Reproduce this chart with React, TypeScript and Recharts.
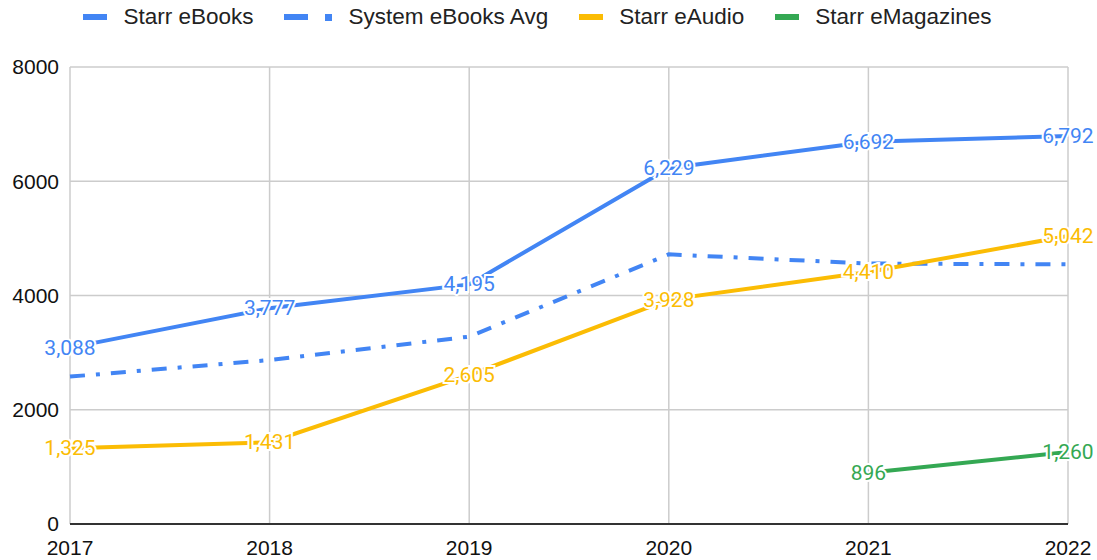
import React from "react";
import {
  LineChart,
  Line,
  XAxis,
  YAxis,
  CartesianGrid,
  LabelList,
} from "recharts";

const years = ["2017", "2018", "2019", "2020", "2021", "2022"];
const starrEbooks = [3088, 3777, 4195, 6229, 6692, 6792];
const systemEbooksAvg = [2580, 2870, 3280, 4720, 4560, 4545];
const starrEaudio = [1325, 1431, 2605, 3928, 4410, 5042];
const starrEmagazines = [null, null, null, null, 896, 1260];
const yTicks = [0, 2000, 4000, 6000, 8000];

const BLUE = "#4285F4";
const YELLOW = "#FBBC04";
const GREEN = "#34A853";
const AXIS_FONT = "Arial, 'Liberation Sans', sans-serif";
const LABEL_FONT = "Roboto, 'Noto Sans', sans-serif";

const data = years.map((year, i) => ({
  year,
  ebooks: starrEbooks[i],
  avg: systemEbooksAvg[i],
  audio: starrEaudio[i],
  mags: starrEmagazines[i],
}));

const legendItems = [
  { name: "Starr eBooks", color: BLUE, dashed: false },
  { name: "System eBooks Avg", color: BLUE, dashed: true },
  { name: "Starr eAudio", color: YELLOW, dashed: false },
  { name: "Starr eMagazines", color: GREEN, dashed: false },
];

function makeLabel(color: string) {
  return (props: any) => {
    const { x, y, value } = props;
    if (value == null) return null;
    return (
      <text
        x={x}
        y={y}
        textAnchor="middle"
        dominantBaseline="central"
        fill={color}
        stroke="#fff"
        strokeWidth={4}
        paintOrder="stroke"
        fontSize={21}
        fontFamily={LABEL_FONT}
      >
        {Number(value).toLocaleString("en-US")}
      </text>
    );
  };
}

function TopLegend() {
  return (
    <div
      style={{
        position: "absolute",
        left: 0,
        top: 0,
        width: 1097,
        height: 34,
        display: "flex",
        justifyContent: "center",
        alignItems: "center",
        gap: 31,
        fontFamily: AXIS_FONT,
        fontSize: 22.5,
        color: "#222",
        paddingRight: 22,
        boxSizing: "border-box",
      }}
    >
      {legendItems.map((item) => (
        <div key={item.name} style={{ display: "flex", alignItems: "center" }}>
          <div style={{ width: 24, height: 6, background: item.color }} />
          {item.dashed && (
            <div
              style={{ width: 7, height: 7, background: item.color, marginLeft: 17 }}
            />
          )}
          <span style={{ marginLeft: 16 }}>{item.name}</span>
        </div>
      ))}
    </div>
  );
}

export default function App() {
  return (
    <div
      style={{
        position: "absolute",
        left: 0,
        top: 0,
        width: 1097,
        height: 560,
        background: "#fff",
      }}
    >
      <LineChart
        width={1097}
        height={560}
        data={data}
        margin={{ top: 67, right: 29, bottom: 0, left: 0 }}
      >
        <CartesianGrid stroke="#ccc" strokeWidth={1.5} />
        <XAxis
          dataKey="year"
          height={36}
          tickLine={false}
          tickSize={0}
          tickMargin={16}
          axisLine={{ stroke: "#333", strokeWidth: 2 }}
          tick={{ fill: "#111", fontSize: 21, fontFamily: AXIS_FONT }}
          interval={0}
        />
        <YAxis
          width={70}
          domain={[0, 8000]}
          ticks={yTicks}
          axisLine={false}
          tickLine={false}
          tickSize={0}
          tickMargin={11}
          tick={{ fill: "#111", fontSize: 21, fontFamily: AXIS_FONT }}
        />
        <Line
          dataKey="avg"
          stroke={BLUE}
          strokeWidth={4}
          strokeDasharray="15 11 4 11"
          dot={false}
          isAnimationActive={false}
        />
        <Line
          dataKey="ebooks"
          stroke={BLUE}
          strokeWidth={4}
          dot={false}
          isAnimationActive={false}
        >
          <LabelList dataKey="ebooks" content={makeLabel(BLUE)} />
        </Line>
        <Line
          dataKey="audio"
          stroke={YELLOW}
          strokeWidth={4}
          dot={false}
          isAnimationActive={false}
        >
          <LabelList dataKey="audio" content={makeLabel(YELLOW)} />
        </Line>
        <Line
          dataKey="mags"
          stroke={GREEN}
          strokeWidth={4}
          dot={false}
          isAnimationActive={false}
        >
          <LabelList dataKey="mags" content={makeLabel(GREEN)} />
        </Line>
      </LineChart>
      <TopLegend />
    </div>
  );
}
